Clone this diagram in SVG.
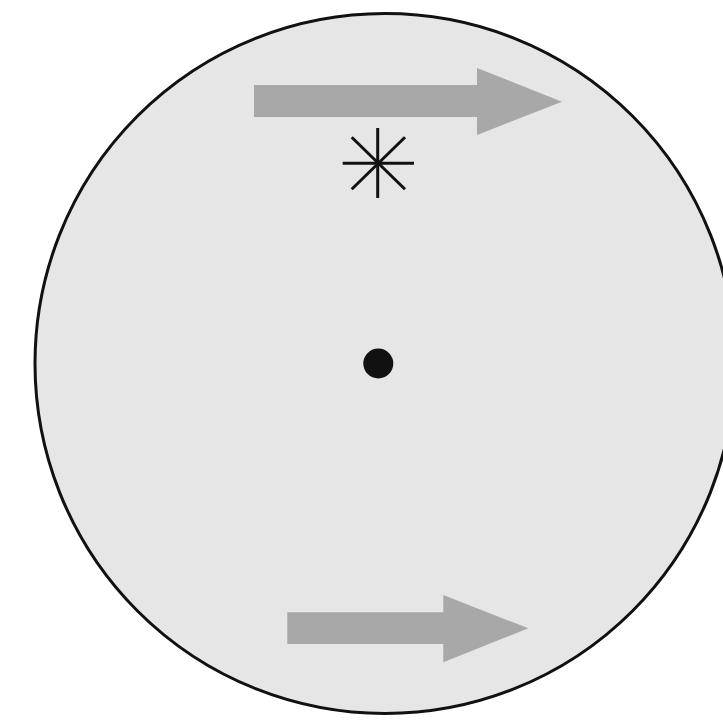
<svg xmlns="http://www.w3.org/2000/svg" width="723" height="721" viewBox="0 0 723 721">
<style>
.arrow{fill:#a8a8a8}
.ast{stroke:#111;stroke-width:3;stroke-linecap:butt}
</style>
<rect width="723" height="721" fill="#ffffff"/>
<g id="disc">
<circle cx="385" cy="363.5" r="350" fill="#e6e6e6" stroke="#111" stroke-width="3"/>
</g>
<g id="center-dot">
<circle cx="378.3" cy="363.5" r="15" fill="#111"/>
</g>
<g id="top-arrow">
<polygon class="arrow" points="254,85 477,85 477,68 562,101.7 477,135 477,117 254,117"/>
</g>
<g id="asterisk">
<line class="ast" x1="377.7" y1="128" x2="377.7" y2="198"/>
<line class="ast" x1="342.7" y1="163.3" x2="414" y2="163.3"/>
<line class="ast" x1="351.7" y1="137.3" x2="405" y2="189.3"/>
<line class="ast" x1="405" y1="137.3" x2="351.7" y2="189.3"/>
</g>
<g id="bottom-arrow">
<polygon class="arrow" points="287.3,612.3 443.3,612.3 443.3,595 528.3,628.3 443.3,662.3 443.3,644 287.3,644"/>
</g>
</svg>
